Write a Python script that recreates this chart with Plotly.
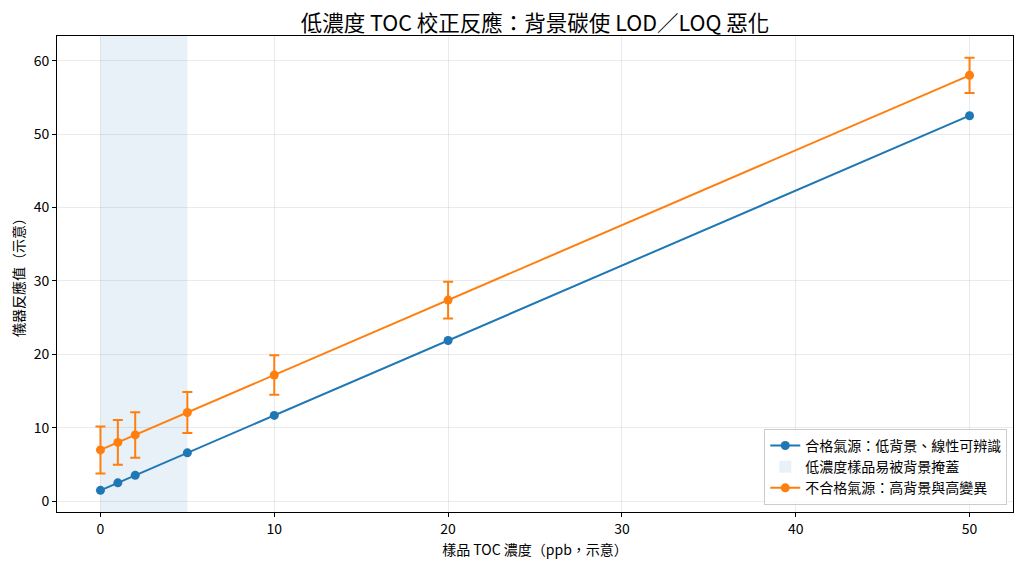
import plotly.graph_objects as go

# sample TOC concentration (ppb)
conc = [0, 1, 2, 5, 10, 20, 50]

# qualified gas source: low background
good_resp = [1.5, 2.52, 3.54, 6.6, 11.7, 21.9, 52.5]

# unqualified gas source: high background + larger spread
bad_resp = [7.0, 8.02, 9.04, 12.1, 17.2, 27.4, 58.0]
bad_err = [3.2, 3.05, 3.1, 2.8, 2.7, 2.5, 2.4]

low_zone = [0, 5]

x_ticks = [0, 10, 20, 30, 40, 50]
y_ticks = [0, 10, 20, 30, 40, 50, 60]

font = "Noto Sans CJK TC"
blue = "#1f77b4"
orange = "#ff7f0e"

fig = go.Figure()

fig.add_trace(go.Scatter(
    x=conc, y=good_resp, mode="lines+markers",
    name="合格氣源：低背景、線性可辨識",
    line=dict(color=blue, width=2),
    marker=dict(color=blue, size=9),
    legendrank=1,
))

fig.add_trace(go.Scatter(
    x=conc, y=bad_resp, mode="lines+markers",
    name="不合格氣源：高背景與高變異",
    line=dict(color=orange, width=2),
    marker=dict(color=orange, size=9),
    error_y=dict(type="data", array=bad_err, color=orange, thickness=2, width=5),
    legendrank=3,
))

fig.add_vrect(
    x0=low_zone[0], x1=low_zone[1],
    fillcolor="rgba(31,119,180,0.1)", line_width=0, layer="below",
    showlegend=True, name="低濃度樣品易被背景掩蓋", legendrank=2,
)

axis_common = dict(
    showline=True, linecolor="black", linewidth=1, mirror=True,
    ticks="outside", ticklen=4, tickcolor="black",
    showgrid=True, gridcolor="rgba(0,0,0,0.08)", gridwidth=1,
    zeroline=False, automargin=False,
    tickfont=dict(family=font, size=14, color="black"),
)

fig.update_xaxes(
    range=[-2.5, 52.5], tickvals=x_ticks,
    title=dict(text="樣品 TOC 濃度（ppb，示意）", font=dict(family=font, size=14, color="black"), standoff=8),
    **axis_common,
)
fig.update_yaxes(
    range=[-1.45, 63.35], tickvals=y_ticks,
    title=dict(text="儀器反應值（示意）", font=dict(family=font, size=14, color="black"), standoff=8),
    **axis_common,
)

# page body adds an 8px margin, so the figure is a bit smaller than the window
fig.update_layout(
    width=1016, height=561,
    margin=dict(l=49, r=11, t=28, b=57),
    paper_bgcolor="white", plot_bgcolor="white",
    font=dict(family=font, size=14, color="black"),
    title=dict(text="低濃度 TOC 校正反應：背景碳使 LOD／LOQ 惡化", x=0.5, xref="paper",
               y=0.973, yanchor="middle", font=dict(family=font, size=21.5, color="black")),
    legend=dict(
        x=0.994, y=0.015, xanchor="right", yanchor="bottom",
        bgcolor="rgba(255,255,255,0.8)", bordercolor="#cccccc", borderwidth=1,
        font=dict(family=font, size=14, color="black"),
        tracegroupgap=0,
    ),
)

fig.write_html("out.html")
